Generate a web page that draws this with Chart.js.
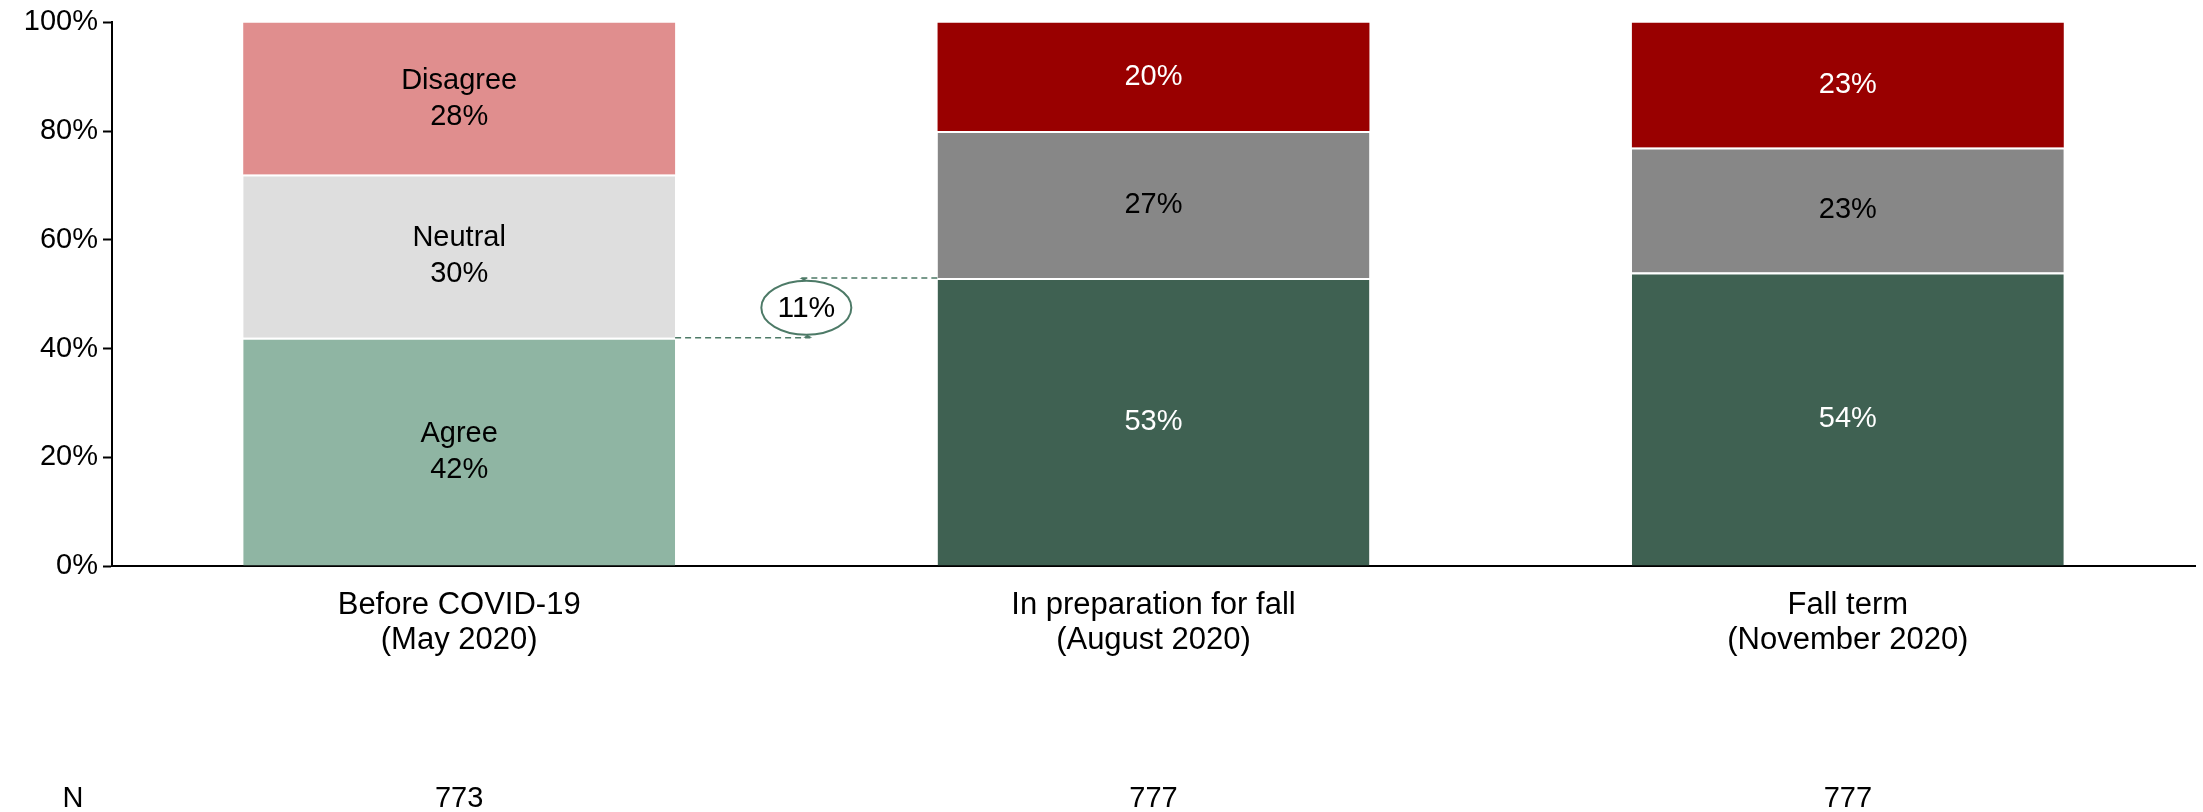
<!DOCTYPE html>
<html>
<head>
<meta charset="utf-8">
<script src="https://cdn.jsdelivr.net/npm/chart.js@4/dist/chart.umd.min.js"></script>
<style>
  html, body { margin: 0; padding: 0; background: #fff; }
  #wrap { width: 2203px; height: 812px; }
</style>
</head>
<body>
<div id="wrap"><canvas id="chart" width="2203" height="812"></canvas></div>
<script>
// chart data
const periods = [['Before COVID-19', '(May 2020)'], ['In preparation for fall', '(August 2020)'], ['Fall term', '(November 2020)']];
const nValues = [773, 777, 777];
const agree = [42, 53, 54];
const neutral = [30, 27, 23];
const disagree = [28, 20, 23];
const yTicks = [0, 20, 40, 60, 80, 100];

const FONT = "'Liberation Sans', Arial, sans-serif";

// label text colour per dataset, per bar
const labelColors = [
    ['#000', '#fff', '#fff'],
    ['#000', '#000', '#000'],
    ['#000', '#fff', '#fff']
];

const segmentLabels = {
    id: 'segmentLabels',
    afterDatasetsDraw(chart) {
        const ctx = chart.ctx;
        ctx.save();
        ctx.font = '29px ' + FONT;
        ctx.textAlign = 'center';
        ctx.textBaseline = 'middle';
        chart.data.datasets.forEach((ds, di) => {
            const meta = chart.getDatasetMeta(di);
            meta.data.forEach((bar, i) => {
                const cy = (bar.y + bar.base) / 2;
                ctx.fillStyle = labelColors[di][i];
                if (i === 0) {
                    ctx.fillText(ds.label, bar.x, cy - 18);
                    ctx.fillText(ds.data[i] + '%', bar.x, cy + 18);
                } else {
                    ctx.fillText(ds.data[i] + '%', bar.x, cy);
                }
            });
        });
        ctx.restore();
    }
};

const changeCallout = {
    id: 'changeCallout',
    afterDatasetsDraw(chart) {
        const ctx = chart.ctx;
        const y = chart.scales.y;
        const meta = chart.getDatasetMeta(0);
        const b1 = meta.data[0], b2 = meta.data[1];
        const x1 = b1.x + b1.width / 2;
        const x2 = b2.x - b2.width / 2;
        const yLow = y.getPixelForValue(agree[0]);
        const yHigh = y.getPixelForValue(agree[1]);
        const cx = (x1 + x2) / 2;
        const cy = (yLow + yHigh) / 2;
        const col = '#4d7a67';
        ctx.save();
        ctx.strokeStyle = col;
        ctx.lineWidth = 1.5;
        ctx.setLineDash([6, 4]);
        ctx.beginPath();
        ctx.moveTo(x1, yLow);
        ctx.lineTo(cx + 4, yLow);
        ctx.moveTo(cx - 5, yHigh);
        ctx.lineTo(x2, yHigh);
        ctx.stroke();
        ctx.setLineDash([]);
        ctx.lineWidth = 2;
        ctx.beginPath();
        ctx.ellipse(cx, cy, 45, 27, 0, 0, Math.PI * 2);
        ctx.stroke();
        // small arrow tips where the dashed lines meet the ellipse
        ctx.fillStyle = col;
        ctx.beginPath();
        ctx.moveTo(cx - 2, cy - 27); ctx.lineTo(cx - 7, yHigh); ctx.lineTo(cx + 1, yHigh);
        ctx.fill();
        ctx.beginPath();
        ctx.moveTo(cx + 1, cy + 27); ctx.lineTo(cx - 3, yLow); ctx.lineTo(cx + 6, yLow);
        ctx.fill();
        ctx.fillStyle = '#000';
        ctx.font = '30px ' + FONT;
        ctx.textAlign = 'center';
        ctx.textBaseline = 'middle';
        ctx.fillText((agree[1] - agree[0]) + '%', cx, cy + 1);
        ctx.restore();
    }
};

const nRow = {
    id: 'nRow',
    afterDraw(chart) {
        const ctx = chart.ctx;
        const x = chart.scales.x;
        ctx.save();
        ctx.font = '29px ' + FONT;
        ctx.fillStyle = '#000';
        ctx.textBaseline = 'middle';
        ctx.textAlign = 'center';
        ctx.fillText('N', 73, 799);
        nValues.forEach((n, i) => {
            ctx.fillText(String(n), x.getPixelForValue(i), 799);
        });
        ctx.restore();
    }
};

new Chart(document.getElementById('chart').getContext('2d'), {
    type: 'bar',
    data: {
        labels: periods,
        datasets: [
            {
                label: 'Agree',
                data: agree,
                backgroundColor: ['#8fb5a3', '#3f6152', '#3f6152'],
                borderColor: '#fff',
                borderWidth: { top: 2, left: 0, right: 0, bottom: 0 },
                borderSkipped: false
            },
            {
                label: 'Neutral',
                data: neutral,
                backgroundColor: ['#dedede', '#878787', '#878787'],
                borderColor: '#fff',
                borderWidth: { top: 2, left: 0, right: 0, bottom: 0 },
                borderSkipped: false
            },
            {
                label: 'Disagree',
                data: disagree,
                backgroundColor: ['#e08e8e', '#990000', '#990000'],
                borderWidth: 0
            }
        ]
    },
    options: {
        responsive: false,
        animation: false,
        layout: { padding: { top: 17, right: 8, left: 0, bottom: 0 } },
        plugins: {
            legend: { display: false },
            tooltip: { enabled: false }
        },
        datasets: {
            bar: { categoryPercentage: 1, barPercentage: 0.622 }
        },
        scales: {
            x: {
                stacked: true,
                grid: { display: false },
                border: { display: true, color: '#000', width: 2 },
                ticks: {
                    color: '#000',
                    font: { family: FONT, size: 31, lineHeight: 1.13 },
                    padding: 14,
                    maxRotation: 0
                },
                afterFit(scale) { scale.height = 246; }
            },
            y: {
                stacked: true,
                min: 0,
                max: 100,
                grid: { drawOnChartArea: false, drawTicks: true, tickLength: 9, color: '#000', tickWidth: 2 },
                border: { display: true, color: '#000', width: 2 },
                ticks: {
                    stepSize: 20,
                    color: '#000',
                    padding: 5,
                    font: { family: FONT, size: 29 },
                    callback: v => yTicks.includes(v) ? v + '%' : ''
                },
                afterFit(scale) { scale.width = 112; }
            }
        }
    },
    plugins: [segmentLabels, changeCallout, nRow]
});
</script>
</body>
</html>
